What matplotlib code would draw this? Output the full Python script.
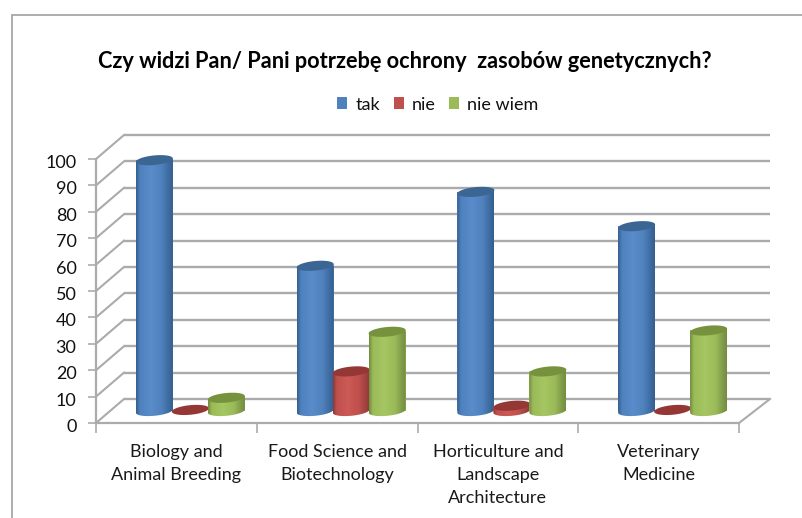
import numpy as np
import matplotlib
matplotlib.use("Agg")
import matplotlib.pyplot as plt
from matplotlib.colors import LinearSegmentedColormap
from matplotlib.patches import Patch, PathPatch, Polygon, Rectangle
from matplotlib.path import Path
from matplotlib.transforms import ScaledTranslation

plt.rcParams['font.family'] = ['Lato', 'DejaVu Sans']

categories = ["Biology and\nAnimal Breeding", "Food Science and\nBiotechnology",
              "Horticulture and\nLandscape\nArchitecture", "Veterinary\nMedicine"]
series_names = ["tak", "nie", "nie wiem"]
tak = [95, 55, 83, 70]
nie = [0.4, 15, 2, 0.4]
nie_wiem = [5, 30, 15, 30.5]
y_ticks = list(range(0, 101, 10))
title = "Czy widzi Pan/ Pani potrzebę ochrony  zasobów genetycznych?"

mid_colors = ["#4F81BD", "#C0504D", "#9BBB59"]
light_colors = ["#5A8CCB", "#CC5A56", "#A5C661"]
dark_colors = ["#355F90", "#8E3A37", "#728C40"]
top_colors = ["#3B6694", "#953735", "#76923C"]
grid_color = "#ABABAB"

W, H, DPI = 802, 518, 100
fig = plt.figure(figsize=(W / DPI, H / DPI), dpi=DPI, facecolor="white")

# chart frame
fig.add_artist(Rectangle((12 / W, -0.1), 1.1, 1.1 - 15 / H, transform=fig.transFigure,
                         fill=False, edgecolor="#A0A0A0", linewidth=1.2))

ax = fig.add_axes([96 / W, (H - 423) / H, (739 - 96) / W, (423 - 159) / H])
ax.patch.set_alpha(0)
n = len(categories)
ax.set_xlim(0, n)
ax.set_ylim(0, 100)

px_x = n / (739 - 96)      # data units per pixel
px_y = 100 / (423 - 159)


def shift(dx, dy):
    return ax.transData + ScaledTranslation(dx / DPI, dy / DPI, fig.dpi_scale_trans)


back = shift(28, 24)
mid = shift(14, 12)

# walls
for v in y_ticks:
    ax.plot([0, n + 3 * px_x], [v, v], transform=back, color=grid_color, lw=1.7, zorder=1,
            clip_on=False, solid_capstyle="butt")
    x0, y0 = 0, v
    xb = x0 + 28 * px_x
    yb = v + 24 * px_y
    ax.plot([x0, xb], [y0, yb], color=grid_color, lw=1.5, zorder=1, clip_on=False)
ax.plot([n, n + 31 * px_x], [0, 24 * px_y], color=grid_color, lw=1.5, zorder=1, clip_on=False)

for s in ("top", "right"):
    ax.spines[s].set_visible(False)
for s in ("left", "bottom"):
    ax.spines[s].set_color(grid_color)
    ax.spines[s].set_linewidth(1.6)
    ax.spines[s].set_zorder(2)

ax.set_yticks(y_ticks)
ax.set_xticks(range(n + 1))
ax.set_xticklabels([])
ax.set_xticks(np.arange(n) + 0.5, labels=categories, minor=True)
ax.tick_params(axis="x", which="major", length=7, width=1.2, color=grid_color)
ax.tick_params(axis="x", which="minor", length=0, pad=15, labelsize=13, labelcolor="#1a1a1a")
ax.tick_params(axis="y", length=6, width=1.2, color=grid_color, labelsize=13, pad=8,
               labelcolor="#111111")
for lab in ax.get_xticklabels(minor=True):
    lab.set_linespacing(1.56)
for lab in ax.get_yticklabels():
    lab.set_transform(lab.get_transform() + ScaledTranslation(0, -2.5 / DPI, fig.dpi_scale_trans))

# cylinders
bar_w = 37 * px_x
rx = bar_w / 2
ry = 4.8 * px_y
tilt = 1.7 * px_y
theta = np.linspace(0, 2 * np.pi, 73)
series = [tak, nie, nie_wiem]
z = 5
for c in range(n):
    for k, vals in enumerate(series):
        xc = c + 0.5 + (k - 1) * (36 * px_x)
        v = vals[c]
        ex = xc + rx * np.cos(theta)
        tilt_part = tilt * np.cos(theta)
        base_y = ry * np.sin(theta) + tilt_part
        top_poly = np.column_stack([ex, v + base_y])

        if v > 1:
            cmap = LinearSegmentedColormap.from_list(
                "c", [(0, dark_colors[k]), (0.1, mid_colors[k]), (0.4, light_colors[k]),
                      (0.7, mid_colors[k]), (1, dark_colors[k])])
            ax.bar(xc, v, bar_w, color=mid_colors[k], transform=mid, zorder=z, clip_on=False,
                   linewidth=0)
            lower = theta[36:]
            bx = xc + rx * np.cos(lower)
            by = ry * np.sin(lower) + tilt * np.cos(lower)
            upper_x = [xc + rx, xc - rx]
            upper_y = [v + tilt, v - tilt]
            verts = np.column_stack([np.r_[bx, upper_x], np.r_[by, upper_y]])
            clip = PathPatch(Path(np.r_[verts, verts[:1]], closed=True), transform=mid,
                             facecolor="none", edgecolor="none")
            ax.add_patch(clip)
            im = ax.imshow(np.linspace(0, 1, 64)[None, :], cmap=cmap, aspect="auto",
                           extent=(xc - rx, xc + rx, -6, v + 4), transform=mid,
                           zorder=z + 0.1, interpolation="bilinear", clip_on=True)
            im.set_clip_path(clip)
        ax.add_patch(Polygon(top_poly, closed=True, facecolor=top_colors[k], edgecolor="none",
                             transform=mid, zorder=z + 0.2, clip_on=False))
        z += 1

ax.set_xlim(0, n)
ax.set_ylim(0, 100)

fig.text(404.5 / W, (H - 61.5) / H, title, ha="center", va="center", fontsize=15.7,
         fontweight="bold", color="black")

handles = [Patch(facecolor=c, edgecolor="none") for c in mid_colors]
fig.legend(handles, series_names, loc="center", bbox_to_anchor=(438 / W, (H - 104.5) / H),
           ncols=3, frameon=False, fontsize=13, handlelength=0.55, handleheight=0.6,
           handletextpad=0.45, columnspacing=0.75, labelcolor="#111111")

fig.savefig("out.png", dpi=DPI, facecolor="white")
